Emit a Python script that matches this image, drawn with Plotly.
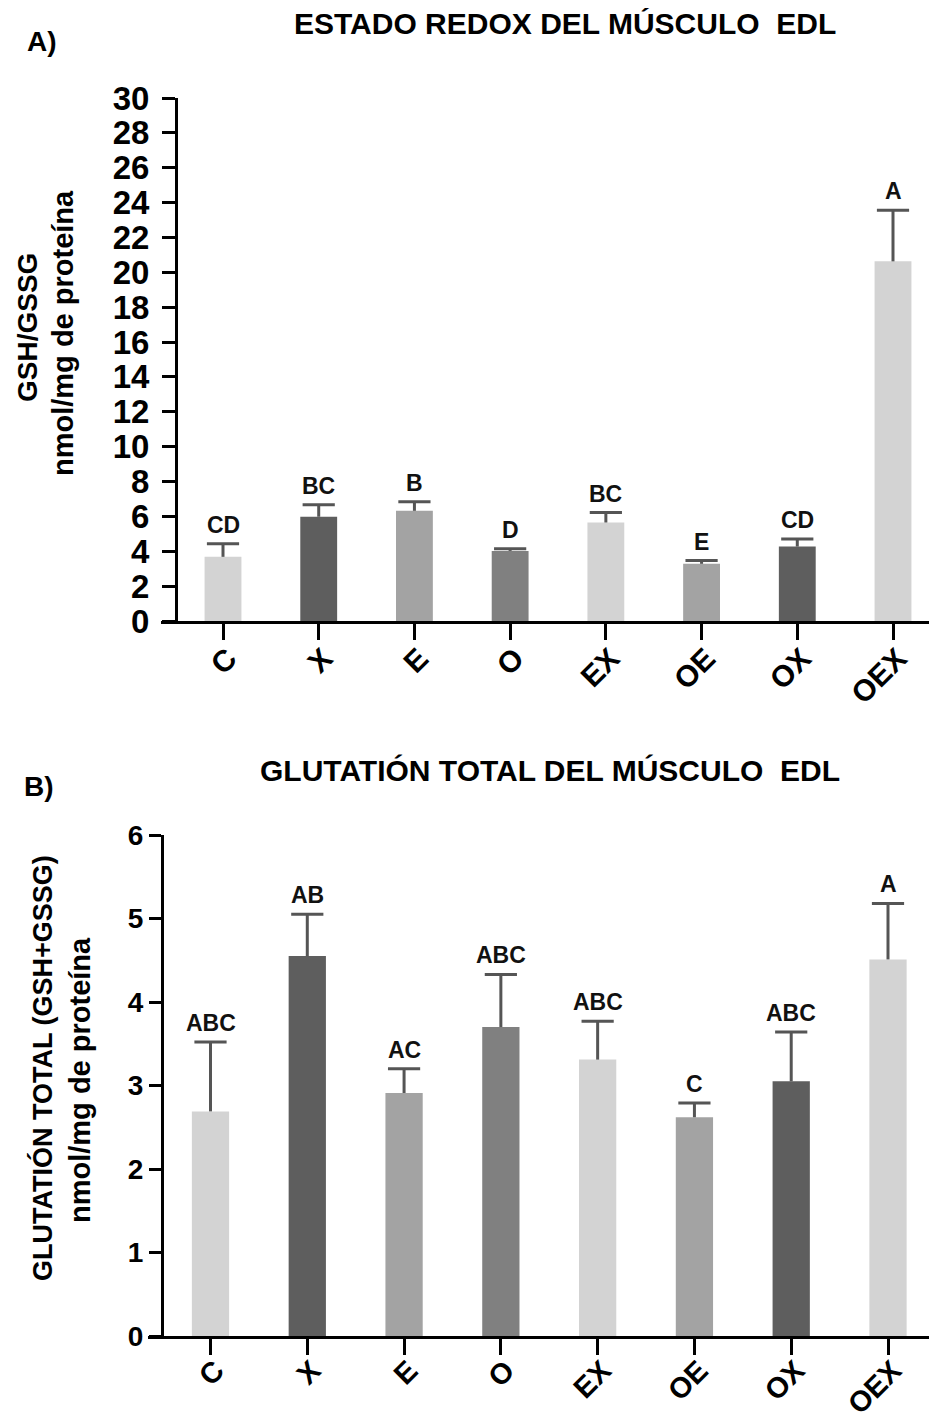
import plotly.graph_objects as go

# ---------------- data ----------------
categories = ["C", "X", "E", "O", "EX", "OE", "OX", "OEX"]

redox_mean = [3.68, 5.98, 6.32, 4.02, 5.65, 3.28, 4.27, 20.63]
redox_sem = [0.75, 0.69, 0.52, 0.12, 0.57, 0.19, 0.44, 2.93]
redox_letters = ["CD", "BC", "B", "D", "BC", "E", "CD", "A"]
redox_ticks = list(range(0, 31, 2))

total_mean = [2.69, 4.55, 2.91, 3.70, 3.31, 2.62, 3.05, 4.51]
total_sem = [0.83, 0.50, 0.29, 0.63, 0.46, 0.17, 0.59, 0.67]
total_letters = ["ABC", "AB", "AC", "ABC", "ABC", "C", "ABC", "A"]
total_ticks = [0, 1, 2, 3, 4, 5, 6]

bar_colors = ["#d3d3d3", "#5e5e5e", "#a3a3a3", "#808080",
              "#d3d3d3", "#a3a3a3", "#5e5e5e", "#d3d3d3"]

# ---------------- layout helpers (page pixel -> paper) ----------------
W, H = 937, 1420
OFF = 8  # page body margin
FONT = "Liberation Sans, Arial, sans-serif"


def fx(px):
    return (px - OFF) / W


def fy(py):
    return 1 - (py - OFF) / H


ERR_COLOR = "#555555"

fig = go.Figure()


def add_panel(means, sems, letters, xa, ya, letter_size):
    fig.add_trace(go.Bar(
        x=categories, y=means, width=0.385,
        marker=dict(color=bar_colors, line=dict(width=0)),
        xaxis=xa, yaxis=ya, showlegend=False, hoverinfo="skip"))
    tops = [m + s for m, s in zip(means, sems)]
    sx, sy = [], []
    for c, m, t in zip(categories, means, tops):
        sx += [c, c, None]
        sy += [m, t, None]
    fig.add_trace(go.Scatter(
        x=sx, y=sy, mode="lines", line=dict(color=ERR_COLOR, width=3),
        xaxis=xa, yaxis=ya, showlegend=False, hoverinfo="skip"))
    fig.add_trace(go.Scatter(
        x=categories, y=tops, mode="markers",
        marker=dict(symbol="line-ew", size=23,
                    line=dict(color=ERR_COLOR, width=3)),
        xaxis=xa, yaxis=ya, showlegend=False, hoverinfo="skip"))
    for c, t, lab in zip(categories, tops, letters):
        fig.add_annotation(
            x=c, y=t, xref=xa, yref=ya, text=lab, showarrow=False,
            xanchor="center", yanchor="middle", yshift=19,
            font=dict(family=FONT, size=letter_size, color="#111111",
                      weight="bold"))


add_panel(redox_mean, redox_sem, redox_letters, "x", "y", 23)
add_panel(total_mean, total_sem, total_letters, "x2", "y2", 23)

# ---------------- axes ----------------
top_x0, top_yaxis_px, top_c, top_last = 161, 176, 223, 893
top_unit = (top_last - top_c) / 7
right_px = W + OFF
top_range = [-(top_c - top_x0) / top_unit,
             7 + (right_px - top_last) / top_unit]

bot_x0, bot_yaxis_px, bot_c, bot_last = 148, 162, 210.5, 888
bot_unit = (bot_last - bot_c) / 7
bot_range = [-(bot_c - bot_x0) / bot_unit,
             7 + (right_px - bot_last) / bot_unit]

common_x = dict(showgrid=False, zeroline=False, showline=True, linewidth=3,
                linecolor="black", ticks="outside", ticklen=16, tickwidth=3,
                tickcolor="black", tickangle=-45, automargin=False,
                ticklabelshift=5,
                type="category", fixedrange=True)
common_y = dict(showgrid=False, zeroline=False, showline=True, linewidth=3,
                linecolor="black", ticks="outside", tickwidth=3,
                tickcolor="black", anchor="free", fixedrange=True,
                automargin=False)

fig.update_layout(
    xaxis=dict(common_x, domain=[fx(top_x0), 1], range=top_range,
               anchor="y", ticklabelstandoff=-11,
               tickfont=dict(family=FONT, size=30, color="black",
                             weight="bold")),
    yaxis=dict(common_y, domain=[fy(621), fy(98)], range=[0, 30],
               tickvals=redox_ticks, ticklen=13, position=fx(top_yaxis_px),
               ticklabelstandoff=6,
               tickfont=dict(family=FONT, size=33, color="black",
                             weight="bold")),
    xaxis2=dict(common_x, domain=[fx(bot_x0), 1], range=bot_range,
                anchor="y2", ticklabelstandoff=-13,
                tickfont=dict(family=FONT, size=29, color="black",
                              weight="bold")),
    yaxis2=dict(common_y, domain=[fy(1336), fy(835)], range=[0, 6],
                tickvals=total_ticks, ticklen=12, position=fx(bot_yaxis_px),
                tickfont=dict(family=FONT, size=28, color="black",
                              weight="bold")),
)


def text_at(px, py, txt, size, angle=0):
    fig.add_annotation(
        x=fx(px), y=fy(py), xref="paper", yref="paper", text=txt,
        showarrow=False, xanchor="center", yanchor="middle",
        textangle=angle,
        font=dict(family=FONT, size=size, color="black", weight="bold"))


text_at(565, 24, "ESTADO REDOX DEL MÚSCULO\u00a0 EDL", 30)
text_at(42, 42, "A)", 28)
text_at(27, 328, "GSH/GSSG", 28, -90)
text_at(63, 333, "nmol/mg de proteína", 29, -90)

text_at(550, 771, "GLUTATIÓN TOTAL DEL MÚSCULO\u00a0 EDL", 30)
text_at(39, 786, "B)", 28)
text_at(42, 1068, "GLUTATIÓN TOTAL (GSH+GSSG)", 27, -90)
text_at(80, 1080, "nmol/mg de proteína", 29, -90)

fig.update_layout(
    width=W, height=H,
    margin=dict(l=0, r=0, t=0, b=0, pad=0, autoexpand=False),
    paper_bgcolor="white", plot_bgcolor="white",
    barmode="overlay",
    font=dict(family=FONT, color="black"),
    showlegend=False,
)

fig.write_html("out.html")
